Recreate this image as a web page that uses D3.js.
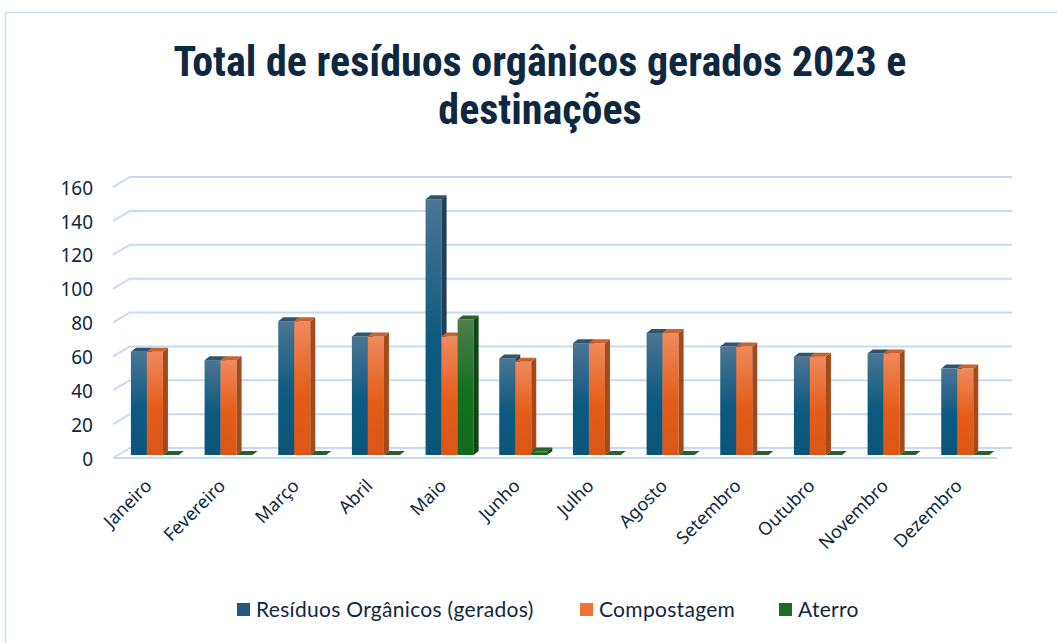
<!DOCTYPE html>
<html>
<head>
<meta charset="utf-8">
<script src="https://cdn.jsdelivr.net/npm/d3@7"></script>
<style>
  body { margin: 0; background: #fff; }
  svg { display: block; }
</style>
</head>
<body>
<div id="chart"></div>
<script>
const width = 1057;
const height = 643;

// data
const months = ['Janeiro', 'Fevereiro', 'Março', 'Abril', 'Maio', 'Junho',
    'Julho', 'Agosto', 'Setembro', 'Outubro', 'Novembro', 'Dezembro'];
const seriesNames = ['Resíduos Orgânicos (gerados)', 'Compostagem', 'Aterro'];
const residuos = [61, 56, 79, 70, 151, 57, 66, 72, 64, 58, 60, 51];
const compostagem = [61, 56, 79, 70, 70, 55, 66, 72, 64, 58, 60, 51];
const aterro = [0, 0, 0, 0, 80, 2, 0, 0, 0, 0, 0, 0];
const yTicks = [0, 20, 40, 60, 80, 100, 120, 140, 160];

const seriesValues = [residuos, compostagem, aterro];

// colours: front gradient top/bottom, side, top face
const palette = [
    { light: '#4b7593', dark: '#0c5a80', side: '#1f3f58', top: '#2f5470', legend: '#1d5a7e' },
    { light: '#f08a5c', dark: '#e55c18', side: '#a44a1a', top: '#c8622e', legend: '#f07332' },
    { light: '#4c7e4e', dark: '#11701e', side: '#0f4614', top: '#2c5f2e', legend: '#1b6b26' }
];

const textColor = '#0e2841';
const gridColor = '#c6dbf2';

// 3D geometry
const wallDx = 17, wallDy = -10;     // front floor -> back wall
const barDx = 5, barDy = -4;         // bar depth
const barDepthFrac = 0.3;            // where bars sit on the floor

const x = d3.scaleBand()
    .domain(months)
    .range([113, 997]);

const xInner = d3.scaleBand()
    .domain(seriesNames)
    .range([0, x.bandwidth()])
    .paddingInner(0)
    .paddingOuter(0.8);

const y = d3.scaleLinear()
    .domain([0, 160])
    .range([455, 184]);

const svg = d3.select('#chart')
    .append('svg')
    .attr('width', width)
    .attr('height', height);

// chart frame
svg.append('rect')
    .attr('x', 5.5)
    .attr('y', 12.5)
    .attr('width', width + 10)
    .attr('height', height + 10)
    .attr('fill', '#fff')
    .attr('stroke', '#c9ddf1')
    .attr('stroke-width', 1.5);

// gradients
const defs = svg.append('defs');
palette.forEach((p, i) => {
    const g = defs.append('linearGradient')
        .attr('id', 'grad' + i)
        .attr('x1', 0).attr('y1', 0).attr('x2', 0).attr('y2', 1);
    g.append('stop').attr('offset', '0%').attr('stop-color', p.light);
    g.append('stop').attr('offset', '55%').attr('stop-color', p.dark);
    g.append('stop').attr('offset', '100%').attr('stop-color', d3.color(p.dark).darker(0.15));
});

// title
const title = svg.append('text')
    .attr('text-anchor', 'middle')
    .attr('fill', textColor)
    .style('font-family', '"Liberation Sans Narrow", "Roboto Condensed", Roboto, sans-serif')
    .style('font-weight', 'bold')
    .style('font-size', '42px');
title.append('tspan')
    .attr('x', 540).attr('y', 76)
    .text('Total de resíduos orgânicos gerados 2023 e');
title.append('tspan')
    .attr('x', 540).attr('y', 124)
    .text('destinações');

// gridlines: left wall diagonal + back wall horizontal
const grid = svg.append('g').attr('class', 'grid');
const backLeft = x.range()[0] + wallDx;
const backRight = x.range()[1] + wallDx - 2;
const yBack = v => y(v) + 3 + wallDy;

grid.selectAll('path.gl')
    .data(yTicks)
    .enter()
    .append('path')
    .attr('class', 'gl')
    .attr('d', v => `M${x.range()[0]},${y(v) + 3}L${backLeft},${yBack(v)}L${backRight},${yBack(v)}`)
    .attr('fill', 'none')
    .attr('stroke', gridColor)
    .attr('stroke-width', 2);

// front edge of the floor
grid.append('line')
    .attr('x1', x.range()[0])
    .attr('x2', x.range()[1])
    .attr('y1', y(0) + 3)
    .attr('y2', y(0) + 3)
    .attr('stroke', gridColor)
    .attr('stroke-width', 2);

// y axis labels
svg.append('g')
    .selectAll('text')
    .data(yTicks)
    .enter()
    .append('text')
    .attr('x', 93)
    .attr('y', v => y(v) + 4)
    .attr('dy', '0.35em')
    .attr('text-anchor', 'end')
    .attr('fill', textColor)
    .style('font-family', '"Noto Sans", sans-serif')
    .style('font-size', '19px')
    .text(v => v);

// bars
const bars = [];
months.forEach((m, i) => {
    seriesNames.forEach((s, j) => {
        bars.push({ month: m, series: s, idx: j, value: seriesValues[j][i] });
    });
});

const shiftX = wallDx * barDepthFrac;
const barW = xInner.bandwidth();

const barG = svg.append('g')
    .selectAll('g')
    .data(bars)
    .enter()
    .append('g');

barG.each(function (d) {
    const g = d3.select(this);
    const x0 = x(d.month) + shiftX + xInner(d.series);
    const x1 = x0 + barW;
    const yTop = y(d.value);
    const yBase = y(0);
    const p = palette[d.idx];

    if (d.value > 0) {
        // front face
        g.append('rect')
            .attr('x', x0)
            .attr('y', yTop)
            .attr('width', barW)
            .attr('height', yBase - yTop)
            .attr('fill', `url(#grad${d.idx})`);
        // side face
        g.append('path')
            .attr('d', `M${x1},${yTop}L${x1 + barDx},${yTop + barDy}L${x1 + barDx},${yBase + barDy}L${x1},${yBase}Z`)
            .attr('fill', p.side);
    }
    // top face
    g.append('path')
        .attr('d', `M${x0},${yTop}L${x0 + barDx},${yTop + barDy}L${x1 + barDx},${yTop + barDy}L${x1},${yTop}Z`)
        .attr('fill', p.top);
});

// x axis labels
svg.append('g')
    .selectAll('text')
    .data(months)
    .enter()
    .append('text')
    .attr('transform', m => `translate(${x(m) + x.bandwidth() / 2 + 3},${487}) rotate(-45)`)
    .attr('text-anchor', 'end')
    .attr('fill', textColor)
    .style('font-family', '"Noto Sans", sans-serif')
    .style('font-size', '18px')
    .text(m => m);

// legend
const legendX = [237, 580, 779];
const legend = svg.append('g')
    .selectAll('g')
    .data(seriesNames)
    .enter()
    .append('g')
    .attr('transform', (s, i) => `translate(${legendX[i]},610)`);

legend.append('rect')
    .attr('x', 0)
    .attr('y', -7)
    .attr('width', 13)
    .attr('height', 13)
    .attr('fill', (s, i) => palette[i].legend);

legend.append('text')
    .attr('x', 19)
    .attr('y', 0)
    .attr('dy', '0.33em')
    .attr('fill', textColor)
    .style('font-family', 'Lato, sans-serif')
    .style('font-size', '21px')
    .style('letter-spacing', '0.3px')
    .text(s => s);
</script>
</body>
</html>
